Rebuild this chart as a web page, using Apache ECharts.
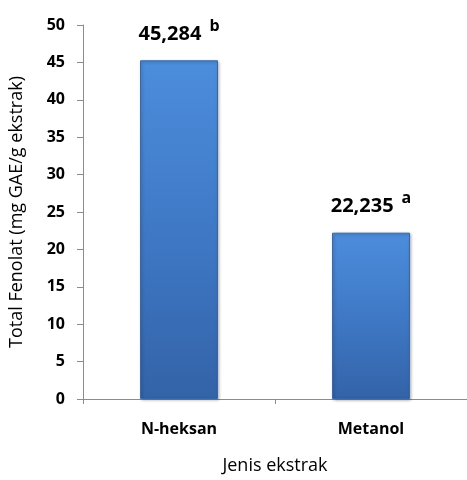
<!DOCTYPE html>
<html>
<head>
<meta charset="utf-8">
<script src="https://cdn.jsdelivr.net/npm/echarts@6/dist/echarts.min.js"></script>
<style>
  html, body { margin: 0; padding: 0; background: #fff; }
  #chart { width: 467px; height: 480px; }
</style>
</head>
<body>
<div id="chart"></div>
<script>
// Total phenolic content per extract type
const categories = ['N-heksan', 'Metanol'];
const values = [45.284, 22.235];
const letters = ['b', 'a'];
const yTicks = { min: 0, max: 50, interval: 5 };

const fmt = v => v.toFixed(3).replace('.', ',');

const chart = echarts.init(document.getElementById('chart'), null, { renderer: 'canvas' });

const barColor = new echarts.graphic.LinearGradient(0, 0, 0, 1, [
  { offset: 0, color: '#4c8ddc' },
  { offset: 0.5, color: '#3f79c6' },
  { offset: 1, color: '#3363a8' }
]);

const font = 'Open Sans';

chart.setOption({
  animation: false,
  grid: { left: 83, right: -7, top: 25, bottom: 79 },
  xAxis: {
    type: 'category',
    data: categories,
    name: 'Jenis ekstrak',
    nameLocation: 'middle',
    nameGap: 58,
    nameTextStyle: { fontFamily: font, fontSize: 18, color: '#000' },
    axisLine: { lineStyle: { color: '#8c8c8c', width: 1 } },
    axisTick: { show: true, length: 5, lineStyle: { color: '#8c8c8c' } },
    axisLabel: { margin: 22, fontFamily: font, fontWeight: 'bold', fontSize: 16, color: '#000' }
  },
  yAxis: {
    type: 'value',
    min: yTicks.min,
    max: yTicks.max,
    interval: yTicks.interval,
    name: 'Total Fenolat (mg GAE/g ekstrak)',
    nameLocation: 'middle',
    nameGap: 57,
    nameTextStyle: { fontFamily: font, fontSize: 18, color: '#000' },
    axisLine: { show: true, lineStyle: { color: '#8c8c8c', width: 1 } },
    axisTick: { show: true, length: 6, lineStyle: { color: '#8c8c8c' } },
    splitLine: { show: false },
    axisLabel: { margin: 18, fontFamily: font, fontWeight: 'bold', fontSize: 16, color: '#000' }
  },
  series: [{
    type: 'bar',
    data: values,
    barWidth: 78,
    itemStyle: {
      color: barColor,
      borderColor: '#3868aa',
      borderWidth: 1,
      shadowColor: 'rgba(0,0,0,0.3)',
      shadowBlur: 3,
      shadowOffsetX: 1,
      shadowOffsetY: 1
    },
    label: {
      show: true,
      position: 'top',
      distance: 10,
      formatter: p => '{v|' + fmt(p.value) + '}{s|' + letters[p.dataIndex] + '}',
      rich: {
        v: { fontFamily: font, fontWeight: 'bold', fontSize: 20, color: '#000' },
        s: { fontFamily: font, fontWeight: 'bold', fontSize: 16, color: '#000', padding: [0, 0, 16, 8] }
      }
    }
  }]
});
</script>
</body>
</html>
